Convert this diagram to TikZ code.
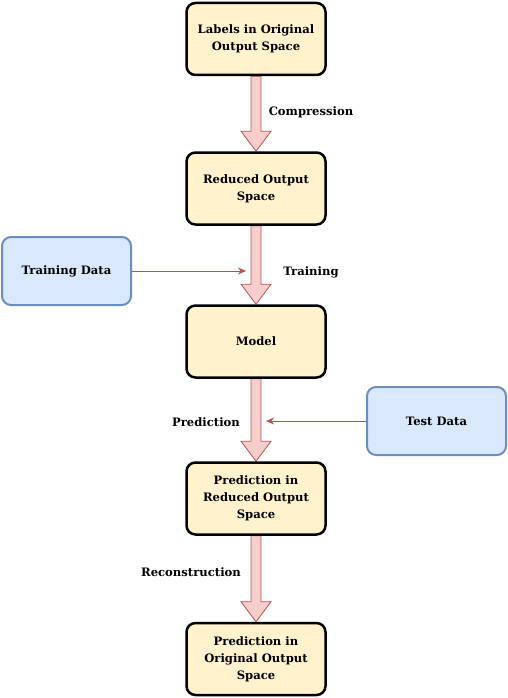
\documentclass[tikz,border=0pt]{standalone}
\usepackage{fontspec}
\setmainfont{DejaVu Serif}
\usepackage{xcolor}
\usetikzlibrary{positioning,calc,arrows.meta,backgrounds}

\definecolor{boxfill}{HTML}{FFF2CC}
\definecolor{datafill}{HTML}{DAE8FC}
\definecolor{dataline}{HTML}{6C8EBF}
\definecolor{arrfill}{HTML}{F8CECC}
\definecolor{arrline}{HTML}{B85450}

\tikzset{
    txt/.style={font=\bfseries\fontsize{11.6}{17}\selectfont, align=center},
    stepbox/.style={txt, draw=black, line width=2.5pt, fill=boxfill, rounded corners=9pt,
        minimum width=139pt, minimum height=72pt, inner sep=0pt},
    databox/.style={txt, draw=dataline, line width=2pt, fill=datafill, rounded corners=9pt,
        minimum height=68pt, inner sep=0pt},
    thinarr/.style={draw=arrline, line width=0.8pt, -{Stealth[length=8pt,width=7pt]}},
    bigarr/.style={draw=arrline, fill=arrfill, line width=0.8pt}
}

% block arrow from the bottom of one box to the top of the next
\newcommand{\blockarrow}[2]{%
    \path[bigarr] ($(#1.south)+(-5,0)$) -- ($(#2.north)+(-5,-20)$) -- ($(#2.north)+(-15,-20)$)
        -- (#2.north) -- ($(#2.north)+(15,-20)$) -- ($(#2.north)+(5,-20)$)
        -- ($(#1.south)+(5,0)$) -- cycle;}

\begin{document}
\begin{tikzpicture}[x=1pt, y=-1pt]
    \useasboundingbox (0,0) rectangle (508,698);

    % main chain
    \node[stepbox] (labels) at (256,39) {Labels in Original\\Output Space};
    \node[stepbox] (reduced) at (256,188.5) {Reduced Output\\Space};
    \node[stepbox] (model) at (256,341.5) {Model};
    \node[stepbox] (predred) at (256,498.5) {Prediction in\\Reduced Output\\Space};
    \node[stepbox] (predorig) at (256,659) {Prediction in\\Original Output\\Space};

    % data inputs
    \node[databox, minimum width=129pt] (train) at (66.5,271) {Training Data};
    \node[databox, minimum width=139pt] (test) at (436.5,421) {Test Data};

    % block arrows
    \begin{scope}[on background layer]
        \blockarrow{labels}{reduced}
        \blockarrow{reduced}{model}
        \blockarrow{model}{predred}
        \blockarrow{predred}{predorig}
    \end{scope}

    % arrow labels
    \node[txt] (compr) at (311,112) {Compression};
    \node[txt] (trainlbl) at (311,272) {Training};
    \node[txt] (predlbl) at (206,422) {Prediction};
    \node[txt] (reclbl) at (191,572) {Reconstruction};

    % data arrows
    \coordinate (trainend) at (246,271);
    \coordinate (testend) at (266,421);
    \draw[thinarr] (train) -- (trainend);
    \draw[thinarr] (test) -- (testend);
\end{tikzpicture}
\end{document}
